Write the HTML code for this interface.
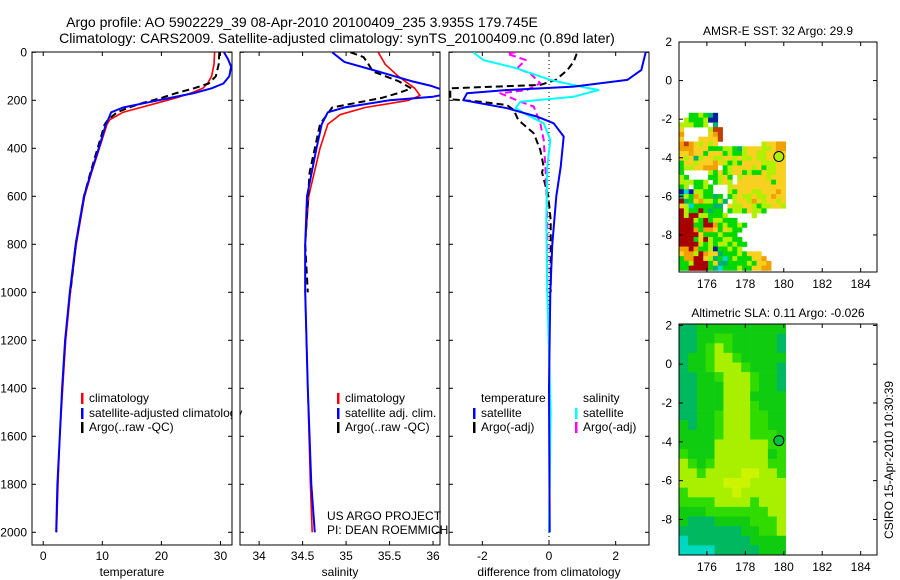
<!DOCTYPE html>
<html><head><meta charset="utf-8"><style>
html,body{margin:0;padding:0;background:#fff}
svg{display:block;font-family:"Liberation Sans",sans-serif}
text{font-size:12px;fill:#000}
</style></head><body>
<svg id="fig" width="900" height="580" viewBox="0 0 900 580" xmlns="http://www.w3.org/2000/svg">
<defs>
<clipPath id="c1"><rect x="32" y="52" width="200" height="493"/></clipPath>
<clipPath id="c2"><rect x="240" y="52" width="200" height="493"/></clipPath>
<clipPath id="c3"><rect x="449" y="52" width="200" height="493"/></clipPath>
</defs>
<text x="302" y="27" text-anchor="middle" style="font-size:14px">Argo profile: AO 5902229_39 08-Apr-2010 20100409_235 3.935S 179.745E</text>
<text x="337" y="43" text-anchor="middle" style="font-size:14px">Climatology: CARS2009. Satellite-adjusted climatology: synTS_20100409.nc (0.89d later)</text>
<g id="g"></g>
</svg>
<script>
// ---- data ----
const redTd=[0,50,100,130,150,170,190,210,230,250,280,300,400,500,600,800,1000,1200,1400,1600,1800,2000];
const redTv=[29.0,28.9,28.5,27.8,27.0,25.0,22.5,19.5,16.5,13.5,11.3,10.8,9.5,8.2,7.0,5.6,4.6,3.8,3.3,2.8,2.5,2.25];
const blueTd=[0,30,60,100,130,150,170,190,210,230,250,280,300,400,500,600,800,1000,1200,1400,1600,1800,2000];
const blueTv=[30.6,31.3,31.8,31.5,30.5,28.5,25.5,21.5,17.5,13.5,11.5,11.0,10.6,9.4,8.1,6.9,5.5,4.5,3.7,3.2,2.8,2.4,2.2];
const argoTd=[0,50,100,130,150,170,190,210,230,250,280,300,400,500,600,800,1000];
const argoTv=[29.8,29.7,29.2,28.0,25.5,22.5,20.0,17.0,14.5,12.5,11.0,10.4,9.2,8.0,6.9,5.5,4.6];
const redSd=[0,50,100,150,180,200,230,260,300,400,600,800,1000,1400,1800,2000];
const redSv=[35.37,35.45,35.6,35.79,35.85,35.72,35.22,34.93,34.79,34.7,34.57,34.53,34.53,34.56,34.59,34.61];
const blueSd=[0,40,80,120,140,155,165,175,185,200,230,250,300,400,600,800,1000,1400,1800,2000];
const blueSv=[34.84,34.98,35.37,35.75,35.98,36.1,36.2,36.15,36.0,35.5,34.98,34.79,34.72,34.66,34.55,34.53,34.53,34.56,34.6,34.64];
const argoSd=[0,20,40,80,120,150,170,190,230,300,500,800,1000];
const argoSv=[35.05,35.2,35.24,35.31,35.6,35.75,35.6,35.41,34.84,34.7,34.58,34.53,34.56];
const dTd=[0,74,115,143,157,171,199,233,268,296,351,477,600,800,1000,1400,2000];
const dTv=[2.9,2.77,2.35,0.74,-1.26,-2.46,-2.57,-1.26,-0.36,0.14,0.44,0.35,0.22,0.1,0.04,0.0,0.02];
const dSd=[0,32,67,115,143,157,185,206,233,261,296,365,477,700,1000,1500,2000];
const dSv=[-2.27,-1.97,-0.96,0.04,0.95,1.49,0.74,-0.86,-1.0,-0.66,-0.16,0.04,-0.05,-0.08,-0.05,0.05,0.0];
const aSd=[0,6,32,67,88,129,157,171,206,226,296,365,500,700,1000];
const aSv=[-1.0,-1.26,-0.7,-0.96,-0.56,-0.26,-0.66,-1.46,-0.86,-0.46,-0.26,-0.16,-0.1,-0.05,-0.05];
const aTd=[6,39,74,115,136,150,196,206,220,240,282,337,407,477,500,600,700,1000];
const aTv=[0.83,0.74,0.55,0.2,-0.26,-2.96,-2.96,-2.06,-1.26,-1.06,-0.92,-0.46,-0.26,-0.16,-0.21,-0.02,0.05,0.05];
const depthTicks=[0,200,400,600,800,1000,1200,1400,1600,1800,2000];
const tTicks=[0,10,20,30];
const sTicks=[34,34.5,35,35.5,36];
const dTicks=[-2,0,2];
const latTicks=[2,0,-2,-4,-6,-8];
const lonTicks=[176,178,180,182,184];
const sstRows=[
"..gglgtb..............",".lggglbb..............","lllggl.t..............","y.....lnn.............",
"o.....yon.............","y...yyyyn.............","onoylyly.........lyyoo","oooyyygggllgtlyyyllyoo",
"yyoyygyyyglgglyyllyyyy","ylytlyyllyylyllyllyyyy","gyylyyyoylglgyyyylllyy","gllyyooo.glyyyylygllyy",
"g.....lgyglyyglggyllyy","lg....gglyg.lyyyyylyyy","lllggl.glyl.yyyyyyygyy","gl.gglg...lyyyyyyyyyyy",
"bcbllgg...lgyyyllyyyoy","tlgolggtg.glyllyllyoyy","rtgyollglt.lyyloylyyly","ylcggggtt.yllyylgllyyl",
"rlggrgtgg.gllgyllg....","rlrrllgggl.....l......","rrrlgrgllggg..........","rrrggrroglgglg........",
"rrrogooygylgg.........","rrrryggglggg..........","rrrgyrlggllgg.........","rrrrlglgllglgg........",
"oorogglbgglgl.........","yoolroyytggglgyyy.....","goorryltgcglgggyyo....","gglrrrgyttgggglgyyo...",
"ggrrrrgtcggglggyyoo..."];
const slaRows=[
"112222222222","112233222221","112343222221","122344322222","122344432221","112234443221",
"112224443221","112224442222","112224443222","112234443322","212234443322","222234443332",
"222244444433","322244444423","432344444433","443444455443","444445554444","344444544444",
"333344443444","222333333344","211122223334","111111122334","011111112222","000011111222"];
const argoLon=179.745, argoLat=-3.935;
// ---- helpers ----
const NS='http://www.w3.org/2000/svg', G=document.getElementById('g');
function mk(t,a,p){const e=document.createElementNS(NS,t);for(const k in a)e.setAttribute(k,a[k]);(p||G).appendChild(e);return e;}
const yD=d=>52.3+d*0.24;
const panels=[{x0:32,x1:232,lo:-1.9,hi:31.95,clip:'c1'},{x0:240,x1:440,lo:33.78,hi:36.08,clip:'c2'},{x0:449,x1:649,lo:-3,hi:3,clip:'c3'}];
const xP=(p,v)=>p.x0+(v-p.lo)/(p.hi-p.lo)*(p.x1-p.x0);
function line(p,ds,vs,col,w,dash,name){
  const pts=ds.map((d,i)=>xP(p,vs[i]).toFixed(1)+','+yD(d).toFixed(1)).join(' ');
  const e=mk('polyline',{points:pts,fill:'none',stroke:col,'stroke-width':w,'clip-path':'url(#'+p.clip+')','stroke-linejoin':'round'});
  if(dash)e.setAttribute('stroke-dasharray',dash);
  
  
}
function txt(x,y,s,anchor,name,extra){const e=mk('text',Object.assign({x:x,y:y,'text-anchor':anchor||'start'},extra||{}));e.textContent=s;
  
  return e;}
function leg(x,y,col,s,name){const r=mk('rect',{x:x,y:y-9,width:2.5,height:11,fill:col});
  
  
  txt(x+8,y,s,'start',name);}
panels.forEach((p,i)=>{const r=mk('rect',{x:p.x0,y:52,width:p.x1-p.x0,height:493,fill:'#fff',stroke:'#000','stroke-width':1});
  
  
  depthTicks.forEach(d=>{mk('line',{x1:p.x0,x2:p.x0+4,y1:yD(d),y2:yD(d),stroke:'#000'});mk('line',{x1:p.x1,x2:p.x1-4,y1:yD(d),y2:yD(d),stroke:'#000'});});
});
depthTicks.forEach(d=>txt(27,yD(d)+4,String(d),'end','depth-tick-label'));
[[0,tTicks,'temperature'],[1,sTicks,'salinity'],[2,dTicks,'difference from climatology']].forEach(([i,tk,lab])=>{
  const p=panels[i];
  tk.forEach(v=>{const x=xP(p,v);mk('line',{x1:x,x2:x,y1:545,y2:541,stroke:'#000'});mk('line',{x1:x,x2:x,y1:52,y2:56,stroke:'#000'});
    txt(x,560,String(v),'middle','x-tick-label');});
  txt((p.x0+p.x1)/2,576,lab,'middle','x-axis-title-'+(i+1));
});
{const x=xP(panels[2],0);const e=mk('line',{x1:x,x2:x,y1:52,y2:545,stroke:'#000','stroke-dasharray':'1,3'});
  
  }
const P1=panels[0],P2=panels[1],P3=panels[2];
line(P1,redTd,redTv,'#f00',1.6,null,'temp-climatology-line');
line(P1,argoTd,argoTv,'#000',2,'7,4','temp-argo-line');
line(P1,blueTd,blueTv,'#0000ff',2,null,'temp-satellite-line');
line(P2,redSd,redSv,'#f00',1.6,null,'sal-climatology-line');
line(P2,argoSd,argoSv,'#000',2,'7,4','sal-argo-line');
line(P2,blueSd,blueSv,'#0000ff',2,null,'sal-satellite-line');
line(P3,aTd,aTv,'#000',2,'7,4','diff-temp-argo-line');
line(P3,aSd,aSv,'#ff00ff',2,'7,4','diff-sal-argo-line');
line(P3,dSd,dSv,'#00ffff',2,null,'diff-sal-satellite-line');
line(P3,dTd,dTv,'#0000ff',2,null,'diff-temp-satellite-line');
leg(81,402,'#f00','climatology','legend-temp-climatology');
leg(81,417,'#00f','satellite-adjusted climatology','legend-temp-satellite');
leg(81,431,'#000','Argo(..raw -QC)','legend-temp-argo');
leg(337,402,'#f00','climatology','legend-sal-climatology');
leg(337,417,'#00f','satellite adj. clim.','legend-sal-satellite');
leg(337,431,'#000','Argo(..raw -QC)','legend-sal-argo');
txt(481,402,'temperature','start','legend-diff-temp-header');
leg(473,417,'#00f','satellite','legend-diff-temp-satellite');
leg(473,431,'#000','Argo(-adj)','legend-diff-temp-argo');
txt(583,402,'salinity','start','legend-diff-sal-header');
leg(575,417,'#0ff','satellite','legend-diff-sal-satellite');
leg(575,431,'#f0f','Argo(-adj)','legend-diff-sal-argo');
{const r=mk('rect',{x:232.5,y:390,width:7,height:50,fill:'#fff'});
 mk('line',{x1:240,x2:240,y1:390,y2:440,stroke:'#000'});}
txt(327,520,'US ARGO PROJECT','start','credit-project');
txt(327,534,'PI: DEAN ROEMMICH','start','credit-pi');
const lonLo=174.55,lonHi=184.85,mx0=679,mx1=877;
const xL=l=>mx0+(l-lonLo)/(lonHi-lonLo)*(mx1-mx0);
function map(top,bot,latTop,latBot,name,title){
  const yL=la=>top+(latTop-la)/(latTop-latBot)*(bot-top);
  const r=mk('rect',{x:mx0,y:top,width:mx1-mx0,height:bot-top,fill:'#fff',stroke:'#000'});
  
  
  txt((mx0+mx1)/2,top-7,title,'middle',name+'-title');
  return yL;
}
function axes(top,bot,yL,name){
  mk('rect',{x:mx0,y:top,width:mx1-mx0,height:bot-top,fill:'none',stroke:'#000'});
  latTicks.forEach(la=>{const y=yL(la);mk('line',{x1:mx0,x2:mx0+4,y1:y,y2:y,stroke:'#000'});mk('line',{x1:mx1,x2:mx1-4,y1:y,y2:y,stroke:'#000'});
    txt(672,y+4,String(la),'end',name+'-lat-label');});
  lonTicks.forEach(l=>{const x=xL(l);mk('line',{x1:x,x2:x,y1:bot,y2:bot-4,stroke:'#000'});mk('line',{x1:x,x2:x,y1:top,y2:top+4,stroke:'#000'});
    txt(x,bot+16,String(l),'middle',name+'-lon-label');});
}
const sstCol={r:'#a80000',n:'#c04000',o:'#f0a000',y:'#f8d020',l:'#b0f000',g:'#00d800',t:'#00b070',c:'#00d8d8',b:'#0020a0'};
const yS=map(42,272,2,-9.92,'sst-map','AMSR-E SST: 32  Argo: 29.9');
{const la0=-1.67,dla=(9.84-1.67)/sstRows.length,dlo=(180.1-lonLo)/22;
 sstRows.forEach((row,i)=>[...row].forEach((ch,j)=>{if(!sstCol[ch])return;
   const x=xL(lonLo+j*dlo),y=yS(la0-i*dla);
   const c=mk('rect',{x:x,y:y,width:xL(lonLo+(j+1)*dlo)-x+0.3,height:yS(la0-(i+1)*dla)-y+0.3,fill:sstCol[ch]});
   
   }));}
axes(42,272,yS,'sst-map');
{const c=mk('circle',{cx:xL(argoLon),cy:yS(argoLat),r:5,fill:'#b0f000',stroke:'#000'});}
const slaCol=['#00d8c0','#00b860','#10cc10','#30dc00','#a8f000','#ccf400'];
const yA=map(324,555,2.07,-9.83,'sla-map','Altimetric SLA: 0.11  Argo: -0.026');
{const dla=(2.07+9.83)/slaRows.length,dlo=(180.1-lonLo)/12;
 slaRows.forEach((row,i)=>[...row].forEach((ch,j)=>{
   const x=xL(lonLo+j*dlo),y=yA(2.07-i*dla);
   const c=mk('rect',{x:x,y:y,width:xL(lonLo+(j+1)*dlo)-x+0.3,height:yA(2.07-(i+1)*dla)-y+0.3,fill:slaCol[+ch]});
   
   }));}
axes(324,555,yA,'sla-map');
{const c=mk('circle',{cx:xL(argoLon),cy:yA(argoLat),r:5,fill:'#00c040',stroke:'#000'});}
txt(0,0,'CSIRO 15-Apr-2010 10:30:39','middle','timestamp',{transform:'translate(893,460) rotate(-90)'});
</script>
</body></html>
